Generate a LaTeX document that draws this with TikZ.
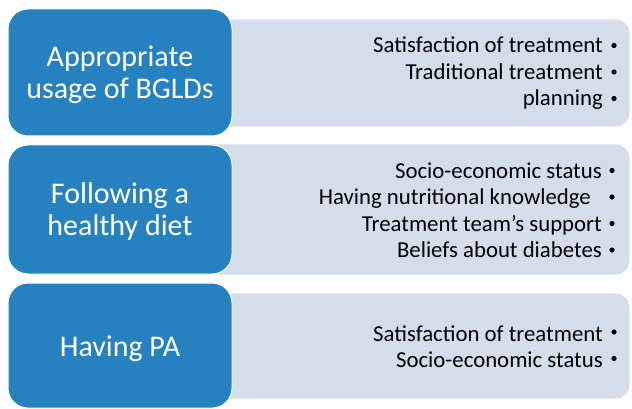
\documentclass[tikz,border=0pt]{standalone}
\usepackage{fontspec}
\setmainfont{Carlito}
\definecolor{bluebox}{RGB}{38,129,193}
\definecolor{graybox}{RGB}{212,221,233}
\begin{document}
\begin{tikzpicture}[x=1pt,y=-1pt,
  catbox/.style={draw=white, line width=1pt, fill=bluebox, rounded corners=20pt,
    minimum width=224pt, inner sep=0pt},
  cattext/.style={text=white, align=center, font=\fontsize{30}{32}\selectfont, inner sep=0pt},
  listbox/.style={draw=white, line width=0.8pt, fill=graybox, rounded corners=14pt,
    minimum width=430pt, inner sep=0pt},
  listtext/.style={anchor=east, align=right, inner sep=0pt, text=black,
    font=\fontsize{22.8}{26.5}\selectfont},
  bullet/.style={circle, fill=black, inner sep=0pt, minimum size=5.2pt}]
\useasboundingbox (0,0) rectangle (632,409);
% gray list panels (left ends hidden under the blue boxes)
\node[listbox, minimum height=108pt] (g1) at (415,73) {};
\node[listbox, minimum height=131pt] (g2) at (415,209.5) {};
\node[listbox, minimum height=106pt] (g3) at (415,346) {};
% blue category boxes
\node[catbox, minimum height=127pt] (b1) at (120,72.5) {};
\node[catbox, minimum height=129pt] (b2) at (120,209.5) {};
\node[catbox, minimum height=125pt] (b3) at (120,345.5) {};
\node[cattext] (c1) at (120,75) {Appropriate\\usage of BGLDs};
\node[cattext] (c2) at (120,212) {Following a\\healthy diet};
\node[cattext] (c3) at (120,348.5) {Having PA};
% lists
\node[listtext] (t1) at (603,73.5)
  {Satisfaction of treatment\\Traditional treatment\\planning};
\node[listtext] (t2) at (602,210)
  {Socio-economic status\\Having nutritional knowledge\hspace*{11pt}\mbox{}\\Treatment team’s support\\Beliefs about diabetes};
\node[listtext] (t3) at (603,346.5)
  {Satisfaction of treatment\\Socio-economic status};
% bullets
\node[bullet] (p11) at (614,45.5) {};
\node[bullet] (p12) at (614,72) {};
\node[bullet] (p13) at (614,98.5) {};
\node[bullet] (p21) at (612,170.5) {};
\node[bullet] (p22) at (612,197) {};
\node[bullet] (p23) at (612,223.5) {};
\node[bullet] (p24) at (612,250) {};
\node[bullet] (p31) at (614,332) {};
\node[bullet] (p32) at (614,358.5) {};
\end{tikzpicture}
\end{document}
